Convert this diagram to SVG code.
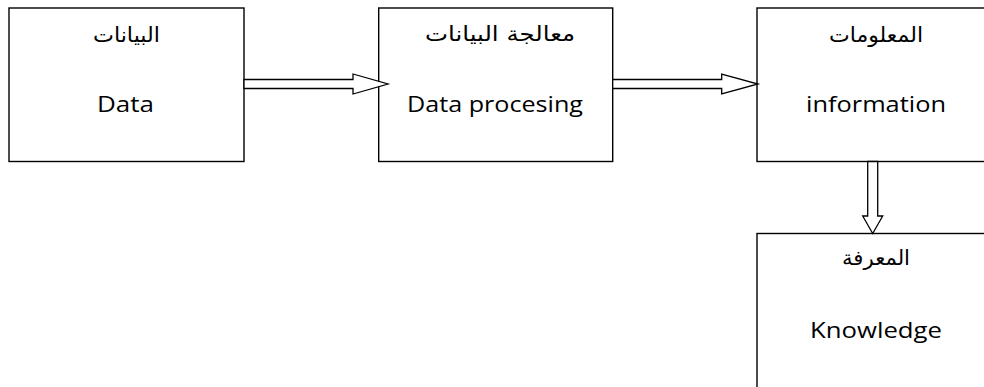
<svg xmlns="http://www.w3.org/2000/svg" width="984" height="387" viewBox="0 0 984 387">
<style>
.box{fill:#fff;stroke:#000;stroke-width:1.4}
.arr{fill:#fff;stroke:#000;stroke-width:1.3;stroke-linejoin:miter}
.ar{font-family:"DejaVu Sans",sans-serif;font-size:20.5px;text-anchor:middle;fill:#000}
.en{font-family:"Open Sans","Liberation Sans",sans-serif;font-size:21px;text-anchor:middle;fill:#000}
</style>
<rect width="984" height="387" fill="#fff"/>
<g id="node-data">
<rect class="box" x="9" y="8" width="235" height="153.5"/>
<text class="ar" x="126.5" y="41.5" direction="rtl" textLength="67" lengthAdjust="spacingAndGlyphs">البيانات</text>
<text class="en" x="125.5" y="112" textLength="57" lengthAdjust="spacingAndGlyphs">Data</text>
</g>
<g id="node-processing">
<rect class="box" x="378.7" y="8" width="234" height="153.5"/>
<text class="ar" x="500" y="40.5" direction="rtl" textLength="150" lengthAdjust="spacingAndGlyphs">معالجة البيانات</text>
<text class="en" x="495" y="112" textLength="176" lengthAdjust="spacingAndGlyphs">Data procesing</text>
</g>
<g id="node-information">
<rect class="box" x="757" y="8" width="236" height="153.5"/>
<text class="ar" x="876" y="41.5" direction="rtl" textLength="94" lengthAdjust="spacingAndGlyphs">المعلومات</text>
<text class="en" x="876" y="112" textLength="140" lengthAdjust="spacingAndGlyphs">information</text>
</g>
<g id="node-knowledge">
<rect class="box" x="757" y="233.5" width="236" height="160"/>
<text class="ar" x="876" y="265" direction="rtl" textLength="68" lengthAdjust="spacingAndGlyphs">المعرفة</text>
<text class="en" x="876" y="337.5" textLength="132" lengthAdjust="spacingAndGlyphs">Knowledge</text>
</g>
<g id="connectors">
<path class="arr" d="M244,79.5 H353 V74 L388,84 L353,94 V88.5 H244 Z"/>
<path class="arr" d="M612.7,79.5 H721.7 V74 L758,84 L721.7,94 V88.5 H612.7 Z"/>
<path class="arr" d="M867.7,161.5 V216 H862.7 L872.7,233.5 L882.7,216 H877.7 V161.5 Z"/>
</g>
</svg>
